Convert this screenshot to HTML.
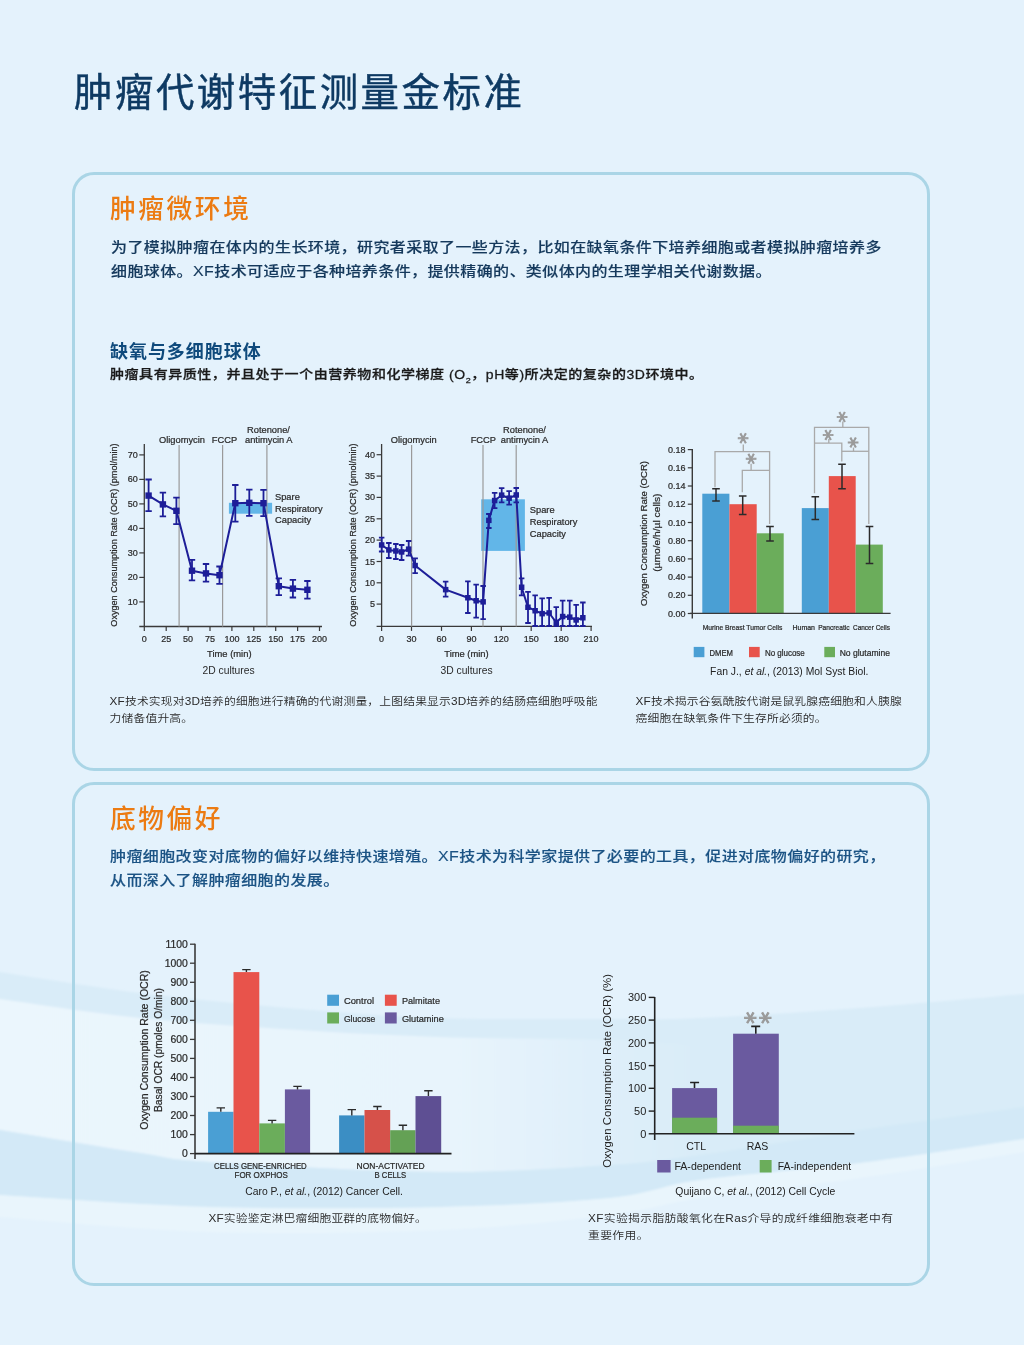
<!DOCTYPE html>
<html lang="zh-CN"><head><meta charset="utf-8"><title>肿瘤代谢特征测量金标准</title>
<style>
html,body{margin:0;padding:0;}
body{width:1024px;height:1345px;overflow:hidden;position:relative;background:#e4f2fc;font-family:"Liberation Sans", "Noto Sans CJK SC", sans-serif;}
.abs{position:absolute;white-space:nowrap;}
.box{position:absolute;border:3px solid #aad5e6;border-radius:22px;box-sizing:border-box;}
h1{position:absolute;margin:0;left:74px;top:68px;font-size:38.4px;line-height:50px;font-weight:400;-webkit-text-stroke:0.45px #0e3a63;color:#0e3a63;letter-spacing:2.55px;font-family:"Liberation Sans","Noto Sans CJK SC",sans-serif;}
.h2{position:absolute;margin:0;font-size:25.7px;line-height:34px;color:#ec7b12;font-weight:500;letter-spacing:2.6px;}
.p{position:absolute;margin:0;font-size:16px;line-height:28.41px;transform:scaleY(0.88);transform-origin:0 0;color:#15395c;font-weight:500;-webkit-text-stroke:0.15px currentColor;letter-spacing:0.4px;white-space:nowrap;}
.h3{position:absolute;margin:0;font-size:18px;line-height:22px;color:#0f4a7c;font-weight:700;letter-spacing:0.95px;}
.p2{position:absolute;margin:0;font-size:14px;line-height:20.45px;transform:scaleY(0.88);transform-origin:0 0;color:#1a1a1a;font-weight:500;-webkit-text-stroke:0.3px #1a1a1a;letter-spacing:0.55px;white-space:nowrap;}
.cap{position:absolute;margin:0;font-size:11.8px;line-height:18.89px;transform:scaleY(0.9);transform-origin:0 0;color:#2a2a2a;font-weight:350;letter-spacing:0.15px;white-space:nowrap;}
svg text{font-family:"Liberation Sans",sans-serif;fill:#2a2a2a;}
.tk,.lb,.yl,.tm,.tk3,.yl3,.cat3,.lg3,.tk4,.lg4,.cat4,.yl4{stroke:#2a2a2a;stroke-width:0.22px;}
.tk{font-size:9px;}
.lb{font-size:9.3px;}
.yl{font-size:8.7px;}
.cu{font-size:10.3px;}
.tm{font-size:9.4px;}
.tk3{font-size:9px;}
.yl3{font-size:9.2px;}
.cat3{font-size:7px;}
.lg3{font-size:8.6px;}
.cit{font-size:10px;fill:#222 !important;}
.star{font-size:22px;fill:#9a9a9a !important;stroke:#9a9a9a;stroke-width:0.9px;font-family:"DejaVu Sans",sans-serif !important;}
.star5{font-size:24px;fill:#a8a8a8 !important;stroke:#a8a8a8;stroke-width:1px;font-family:"DejaVu Sans",sans-serif !important;letter-spacing:-1px;}
.tk4{font-size:10.4px;}
.lg4{font-size:9.4px;}
.cat4{font-size:8.4px;}
.yl4{font-size:10px;}
.tk5{font-size:11px;fill:#222 !important;}
.ax5{font-size:10.5px;fill:#222 !important;}
</style></head>
<body>
<svg class="abs" style="left:0;top:0;" width="1024" height="1345" viewBox="0 0 1024 1345"><defs><linearGradient id="wf" x1="0" y1="0" x2="1024" y2="0" gradientUnits="userSpaceOnUse">
<stop offset="0" stop-color="#ebf6fd" stop-opacity="1"/><stop offset="0.45" stop-color="#ebf6fd" stop-opacity="0.8"/><stop offset="0.68" stop-color="#ebf6fd" stop-opacity="0"/></linearGradient>
<filter id="bl" x="-5%" y="-20%" width="110%" height="140%"><feGaussianBlur stdDeviation="1.2"/></filter></defs>
<g filter="url(#bl)">
<path d="M-5.0,971.0 L-5.2,971.0 L-6.0,970.9 L-7.3,970.7 L-8.7,970.5 L-10.1,970.3 L-11.2,970.2 L-11.9,970.1 L-11.9,970.1 L-10.9,970.3 L-8.7,970.7 L-5.2,971.2 L0.0,972.0 L6.9,973.1 L15.3,974.4 L25.0,976.0 L35.9,977.7 L47.8,979.6 L60.3,981.6 L73.4,983.6 L86.9,985.6 L100.4,987.6 L113.9,989.6 L127.2,991.4 L140.0,993.0 L152.7,994.5 L165.7,996.0 L179.1,997.5 L192.6,999.0 L206.3,1000.4 L220.0,1001.8 L233.7,1003.1 L247.4,1004.4 L260.9,1005.6 L274.3,1006.8 L287.3,1007.9 L300.0,1009.0 L312.3,1010.0 L324.1,1011.0 L335.7,1011.9 L347.0,1012.8 L358.2,1013.7 L369.4,1014.4 L380.6,1015.2 L391.9,1015.9 L403.4,1016.5 L415.2,1017.0 L427.3,1017.6 L440.0,1018.0 L453.4,1018.4 L467.5,1018.7 L482.3,1018.9 L497.4,1019.0 L512.8,1019.1 L528.1,1019.1 L543.3,1019.1 L558.1,1019.1 L572.4,1019.1 L585.9,1019.0 L598.5,1019.0 L610.0,1019.0 L620.1,1019.0 L628.8,1019.1 L636.5,1019.1 L643.3,1019.1 L649.6,1019.2 L655.6,1019.2 L661.6,1019.2 L667.8,1019.1 L674.5,1018.9 L681.9,1018.7 L690.3,1018.4 L700.0,1018.0 L710.9,1017.5 L722.6,1016.9 L735.0,1016.2 L748.0,1015.5 L761.5,1014.7 L775.4,1013.8 L789.5,1012.9 L803.8,1012.0 L818.1,1011.0 L832.3,1010.0 L846.3,1009.0 L860.0,1008.0 L874.0,1006.9 L888.9,1005.7 L904.4,1004.5 L920.2,1003.1 L936.1,1001.8 L951.6,1000.4 L966.7,999.1 L980.9,997.9 L994.0,996.7 L1005.8,995.6 L1015.9,994.7 L1024.0,994.0 L1030.1,993.5 L1034.2,993.1 L1036.8,992.8 L1037.9,992.7 L1038.0,992.6 L1037.2,992.6 L1035.9,992.7 L1034.3,992.8 L1032.6,992.9 L1031.2,993.0 L1030.2,993.0 L1030.0,993.0 L1030.0,1138.0 L1030.2,1138.0 L1031.2,1137.8 L1032.6,1137.6 L1034.3,1137.4 L1035.9,1137.2 L1037.2,1137.0 L1038.0,1136.9 L1037.9,1136.9 L1036.8,1137.1 L1034.2,1137.5 L1030.1,1138.1 L1024.0,1139.0 L1015.9,1140.2 L1005.8,1141.8 L994.0,1143.5 L980.9,1145.6 L966.7,1147.7 L951.6,1150.0 L936.1,1152.3 L920.2,1154.7 L904.4,1157.0 L888.9,1159.1 L874.0,1161.2 L860.0,1163.0 L846.3,1164.7 L832.3,1166.2 L818.1,1167.7 L803.8,1169.1 L789.5,1170.5 L775.4,1171.9 L761.5,1173.2 L748.0,1174.5 L735.0,1175.8 L722.6,1177.2 L710.9,1178.6 L700.0,1180.0 L690.3,1181.5 L681.9,1183.0 L674.5,1184.6 L667.8,1186.3 L661.6,1187.9 L655.6,1189.5 L649.6,1191.1 L643.3,1192.6 L636.5,1194.1 L628.8,1195.5 L620.1,1196.8 L610.0,1198.0 L598.8,1199.1 L587.0,1200.1 L574.5,1201.1 L561.5,1202.0 L547.9,1202.8 L533.8,1203.6 L519.1,1204.3 L504.1,1205.0 L488.6,1205.6 L472.7,1206.1 L456.5,1206.6 L440.0,1207.0 L422.9,1207.4 L404.9,1207.7 L386.2,1207.9 L367.0,1208.1 L347.4,1208.2 L327.5,1208.3 L307.5,1208.3 L287.4,1208.2 L267.5,1208.1 L247.9,1207.8 L228.7,1207.4 L210.0,1207.0 L191.1,1206.4 L171.5,1205.6 L151.3,1204.6 L130.9,1203.5 L110.7,1202.3 L90.9,1201.1 L72.0,1199.8 L54.1,1198.6 L37.6,1197.5 L22.9,1196.5 L10.3,1195.7 L0.0,1195.0 L-7.6,1194.5 L-12.8,1194.2 L-15.8,1194.0 L-17.0,1193.8 L-16.9,1193.8 L-15.6,1193.8 L-13.7,1193.8 L-11.3,1193.9 L-8.9,1193.9 L-6.8,1194.0 L-5.4,1194.0 L-5.0,1194.0 Z" fill="#d9ecf8"/>
<path d="M-5.0,998.0 L-5.2,998.0 L-6.0,997.9 L-7.3,997.8 L-8.7,997.6 L-10.1,997.4 L-11.2,997.3 L-11.9,997.3 L-11.9,997.3 L-10.9,997.5 L-8.7,997.8 L-5.2,998.3 L0.0,999.0 L6.9,1000.0 L15.3,1001.2 L25.0,1002.6 L35.9,1004.3 L47.8,1006.0 L60.3,1007.8 L73.4,1009.7 L86.9,1011.5 L100.4,1013.3 L113.9,1015.0 L127.2,1016.6 L140.0,1018.0 L152.7,1019.3 L165.7,1020.5 L179.1,1021.6 L192.6,1022.7 L206.3,1023.7 L220.0,1024.8 L233.7,1025.7 L247.4,1026.6 L260.9,1027.5 L274.3,1028.4 L287.3,1029.2 L300.0,1030.0 L312.3,1030.8 L324.1,1031.5 L335.7,1032.2 L347.0,1032.9 L358.2,1033.5 L369.4,1034.1 L380.6,1034.6 L391.9,1035.1 L403.4,1035.6 L415.2,1036.1 L427.3,1036.6 L440.0,1037.0 L453.4,1037.4 L467.5,1037.7 L482.3,1038.0 L497.4,1038.2 L512.8,1038.4 L528.1,1038.6 L543.3,1038.8 L558.1,1039.0 L572.4,1039.2 L585.9,1039.4 L598.5,1039.7 L610.0,1040.0 L619.5,1040.3 L626.9,1040.7 L632.5,1041.1 L637.0,1041.5 L641.0,1041.9 L645.0,1042.4 L649.5,1042.8 L655.2,1043.3 L662.5,1043.7 L672.0,1044.1 L684.4,1044.6 L700.0,1045.0 L720.1,1045.4 L744.9,1045.9 L773.4,1046.4 L804.4,1046.9 L837.2,1047.3 L870.6,1047.8 L903.7,1048.3 L935.6,1048.7 L965.1,1049.1 L991.3,1049.5 L1013.3,1049.8 L1030.0,1050.0 L1030.0,1106.0 L1030.2,1106.0 L1031.2,1105.9 L1032.6,1105.7 L1034.3,1105.4 L1035.9,1105.2 L1037.2,1105.1 L1038.0,1105.0 L1037.9,1105.0 L1036.8,1105.2 L1034.2,1105.5 L1030.1,1106.1 L1024.0,1107.0 L1015.9,1108.1 L1005.8,1109.5 L994.0,1111.2 L980.9,1113.0 L966.7,1114.9 L951.6,1117.0 L936.1,1119.2 L920.2,1121.4 L904.4,1123.6 L888.9,1125.8 L874.0,1127.9 L860.0,1130.0 L846.3,1132.1 L832.3,1134.2 L818.1,1136.5 L803.8,1138.7 L789.5,1141.0 L775.4,1143.3 L761.5,1145.5 L748.0,1147.7 L735.0,1149.8 L722.6,1151.7 L710.9,1153.4 L700.0,1155.0 L690.3,1156.4 L681.9,1157.6 L674.5,1158.6 L667.8,1159.6 L661.6,1160.4 L655.6,1161.1 L649.6,1161.8 L643.3,1162.4 L636.5,1163.1 L628.8,1163.7 L620.1,1164.3 L610.0,1165.0 L598.8,1165.7 L587.0,1166.5 L574.5,1167.4 L561.5,1168.2 L547.9,1169.0 L533.8,1169.8 L519.1,1170.4 L504.1,1171.0 L488.6,1171.5 L472.7,1171.9 L456.5,1172.0 L440.0,1172.0 L422.4,1171.8 L403.3,1171.3 L383.0,1170.7 L361.9,1169.9 L340.3,1169.0 L318.8,1168.0 L297.5,1167.0 L277.0,1165.9 L257.7,1164.8 L239.8,1163.8 L223.8,1162.9 L210.0,1162.0 L198.8,1161.3 L189.9,1160.6 L182.9,1160.0 L177.4,1159.4 L173.0,1158.9 L169.4,1158.3 L166.0,1157.7 L162.6,1157.0 L158.7,1156.2 L153.9,1155.3 L147.8,1154.2 L140.0,1153.0 L130.4,1151.5 L119.2,1149.7 L106.8,1147.7 L93.5,1145.6 L79.8,1143.3 L65.9,1141.0 L52.3,1138.7 L39.3,1136.6 L27.1,1134.5 L16.3,1132.7 L7.2,1131.2 L0.0,1130.0 L-5.2,1129.1 L-8.7,1128.5 L-10.9,1128.2 L-11.9,1128.0 L-11.9,1128.0 L-11.2,1128.1 L-10.1,1128.2 L-8.7,1128.4 L-7.3,1128.7 L-6.0,1128.9 L-5.2,1129.0 L-5.0,1129.0 Z" fill="url(#wf)"/>
<path d="M-5.0,1129.0 L-5.2,1129.0 L-6.0,1128.9 L-7.3,1128.7 L-8.7,1128.4 L-10.1,1128.2 L-11.2,1128.1 L-11.9,1128.0 L-11.9,1128.0 L-10.9,1128.2 L-8.7,1128.5 L-5.2,1129.1 L0.0,1130.0 L7.2,1131.2 L16.3,1132.7 L27.1,1134.5 L39.3,1136.6 L52.3,1138.7 L65.9,1141.0 L79.8,1143.3 L93.5,1145.6 L106.8,1147.7 L119.2,1149.7 L130.4,1151.5 L140.0,1153.0 L147.8,1154.2 L153.9,1155.3 L158.7,1156.2 L162.6,1157.0 L166.0,1157.7 L169.4,1158.3 L173.0,1158.9 L177.4,1159.4 L182.9,1160.0 L189.9,1160.6 L198.8,1161.3 L210.0,1162.0 L223.8,1162.9 L239.8,1163.8 L257.7,1164.8 L277.0,1165.9 L297.5,1167.0 L318.8,1168.0 L340.3,1169.0 L361.9,1169.9 L383.0,1170.7 L403.3,1171.3 L422.4,1171.8 L440.0,1172.0 L456.5,1172.0 L472.7,1171.9 L488.6,1171.5 L504.1,1171.0 L519.1,1170.4 L533.8,1169.8 L547.9,1169.0 L561.5,1168.2 L574.5,1167.4 L587.0,1166.5 L598.8,1165.7 L610.0,1165.0 L620.1,1164.3 L628.8,1163.7 L636.5,1163.1 L643.3,1162.4 L649.6,1161.8 L655.6,1161.1 L661.6,1160.4 L667.8,1159.6 L674.5,1158.6 L681.9,1157.6 L690.3,1156.4 L700.0,1155.0 L710.9,1153.4 L722.6,1151.7 L735.0,1149.8 L748.0,1147.7 L761.5,1145.5 L775.4,1143.3 L789.5,1141.0 L803.8,1138.7 L818.1,1136.5 L832.3,1134.2 L846.3,1132.1 L860.0,1130.0 L874.0,1127.9 L888.9,1125.8 L904.4,1123.6 L920.2,1121.4 L936.1,1119.2 L951.6,1117.0 L966.7,1114.9 L980.9,1113.0 L994.0,1111.2 L1005.8,1109.5 L1015.9,1108.1 L1024.0,1107.0 L1030.1,1106.1 L1034.2,1105.5 L1036.8,1105.2 L1037.9,1105.0 L1038.0,1105.0 L1037.2,1105.1 L1035.9,1105.2 L1034.3,1105.4 L1032.6,1105.7 L1031.2,1105.9 L1030.2,1106.0 L1030.0,1106.0 L1030.0,1138.0 L1030.2,1138.0 L1031.2,1137.8 L1032.6,1137.6 L1034.3,1137.4 L1035.9,1137.2 L1037.2,1137.0 L1038.0,1136.9 L1037.9,1136.9 L1036.8,1137.1 L1034.2,1137.5 L1030.1,1138.1 L1024.0,1139.0 L1015.9,1140.2 L1005.8,1141.8 L994.0,1143.5 L980.9,1145.6 L966.7,1147.7 L951.6,1150.0 L936.1,1152.3 L920.2,1154.7 L904.4,1157.0 L888.9,1159.1 L874.0,1161.2 L860.0,1163.0 L846.3,1164.7 L832.3,1166.2 L818.1,1167.7 L803.8,1169.1 L789.5,1170.5 L775.4,1171.9 L761.5,1173.2 L748.0,1174.5 L735.0,1175.8 L722.6,1177.2 L710.9,1178.6 L700.0,1180.0 L690.3,1181.5 L681.9,1183.0 L674.5,1184.6 L667.8,1186.3 L661.6,1187.9 L655.6,1189.5 L649.6,1191.1 L643.3,1192.6 L636.5,1194.1 L628.8,1195.5 L620.1,1196.8 L610.0,1198.0 L598.8,1199.1 L587.0,1200.1 L574.5,1201.1 L561.5,1202.0 L547.9,1202.8 L533.8,1203.6 L519.1,1204.3 L504.1,1205.0 L488.6,1205.6 L472.7,1206.1 L456.5,1206.6 L440.0,1207.0 L422.9,1207.4 L404.9,1207.7 L386.2,1207.9 L367.0,1208.1 L347.4,1208.2 L327.5,1208.3 L307.5,1208.3 L287.4,1208.2 L267.5,1208.1 L247.9,1207.8 L228.7,1207.4 L210.0,1207.0 L191.1,1206.4 L171.5,1205.6 L151.3,1204.6 L130.9,1203.5 L110.7,1202.3 L90.9,1201.1 L72.0,1199.8 L54.1,1198.6 L37.6,1197.5 L22.9,1196.5 L10.3,1195.7 L0.0,1195.0 L-7.6,1194.5 L-12.8,1194.2 L-15.8,1194.0 L-17.0,1193.8 L-16.9,1193.8 L-15.6,1193.8 L-13.7,1193.8 L-11.3,1193.9 L-8.9,1193.9 L-6.8,1194.0 L-5.4,1194.0 L-5.0,1194.0 Z" fill="#d3e9f7"/>
<path d="M-5.0,1194.0 L-5.4,1194.0 L-6.8,1194.0 L-8.9,1193.9 L-11.3,1193.9 L-13.7,1193.8 L-15.6,1193.8 L-16.9,1193.8 L-17.0,1193.8 L-15.8,1194.0 L-12.8,1194.2 L-7.6,1194.5 L0.0,1195.0 L10.3,1195.7 L22.9,1196.5 L37.6,1197.5 L54.1,1198.6 L72.0,1199.8 L90.9,1201.1 L110.7,1202.3 L130.9,1203.5 L151.3,1204.6 L171.5,1205.6 L191.1,1206.4 L210.0,1207.0 L228.7,1207.4 L247.9,1207.8 L267.5,1208.1 L287.4,1208.2 L307.5,1208.3 L327.5,1208.3 L347.4,1208.2 L367.0,1208.1 L386.2,1207.9 L404.9,1207.7 L422.9,1207.4 L440.0,1207.0 L456.5,1206.6 L472.7,1206.1 L488.6,1205.6 L504.1,1205.0 L519.1,1204.3 L533.8,1203.6 L547.9,1202.8 L561.5,1202.0 L574.5,1201.1 L587.0,1200.1 L598.8,1199.1 L610.0,1198.0 L620.1,1196.8 L628.8,1195.5 L636.5,1194.1 L643.3,1192.6 L649.6,1191.1 L655.6,1189.5 L661.6,1187.9 L667.8,1186.3 L674.5,1184.6 L681.9,1183.0 L690.3,1181.5 L700.0,1180.0 L710.9,1178.6 L722.6,1177.2 L735.0,1175.8 L748.0,1174.5 L761.5,1173.2 L775.4,1171.9 L789.5,1170.5 L803.8,1169.1 L818.1,1167.7 L832.3,1166.2 L846.3,1164.7 L860.0,1163.0 L874.0,1161.2 L888.9,1159.1 L904.4,1157.0 L920.2,1154.7 L936.1,1152.3 L951.6,1150.0 L966.7,1147.7 L980.9,1145.6 L994.0,1143.5 L1005.8,1141.8 L1015.9,1140.2 L1024.0,1139.0 L1030.1,1138.1 L1034.2,1137.5 L1036.8,1137.1 L1037.9,1136.9 L1038.0,1136.9 L1037.2,1137.0 L1035.9,1137.2 L1034.3,1137.4 L1032.6,1137.6 L1031.2,1137.8 L1030.2,1138.0 L1030.0,1138.0 L1030.0,1151.0 L1030.2,1151.0 L1031.2,1150.8 L1032.6,1150.6 L1034.3,1150.3 L1035.9,1150.1 L1037.2,1149.9 L1038.0,1149.8 L1037.9,1149.8 L1036.8,1150.0 L1034.2,1150.4 L1030.1,1151.0 L1024.0,1152.0 L1015.9,1153.3 L1005.8,1155.0 L994.0,1156.9 L980.9,1159.0 L966.7,1161.4 L951.6,1163.8 L936.1,1166.3 L920.2,1168.9 L904.4,1171.3 L888.9,1173.7 L874.0,1176.0 L860.0,1178.0 L846.3,1179.9 L832.3,1181.7 L818.1,1183.5 L803.8,1185.2 L789.5,1186.9 L775.4,1188.6 L761.5,1190.2 L748.0,1191.8 L735.0,1193.4 L722.6,1194.9 L710.9,1196.5 L700.0,1198.0 L690.3,1199.5 L681.9,1201.0 L674.5,1202.5 L667.8,1204.0 L661.6,1205.4 L655.6,1206.8 L649.6,1208.2 L643.3,1209.6 L636.5,1211.0 L628.8,1212.3 L620.1,1213.7 L610.0,1215.0 L598.8,1216.4 L587.0,1217.8 L574.5,1219.2 L561.5,1220.6 L547.9,1222.1 L533.8,1223.4 L519.1,1224.8 L504.1,1226.0 L488.6,1227.2 L472.7,1228.3 L456.5,1229.2 L440.0,1230.0 L422.9,1230.7 L404.9,1231.3 L386.2,1231.8 L367.0,1232.3 L347.4,1232.6 L327.5,1232.9 L307.5,1233.0 L287.4,1233.1 L267.5,1233.0 L247.9,1232.8 L228.7,1232.5 L210.0,1232.0 L191.1,1231.3 L171.5,1230.3 L151.3,1229.1 L130.9,1227.7 L110.7,1226.2 L90.9,1224.7 L72.0,1223.1 L54.1,1221.6 L37.6,1220.2 L22.9,1218.9 L10.3,1217.8 L0.0,1217.0 L-7.6,1216.4 L-12.8,1216.0 L-15.8,1215.7 L-17.0,1215.6 L-16.9,1215.5 L-15.6,1215.6 L-13.7,1215.6 L-11.3,1215.7 L-8.9,1215.9 L-6.8,1215.9 L-5.4,1216.0 L-5.0,1216.0 Z" fill="#e9f5fc"/>
</g></svg>
<h1>肿瘤代谢特征测量金标准</h1>
<div class="box" style="left:72px;top:171.6px;width:858px;height:599.8px;"></div>
<div class="box" style="left:72px;top:782.2px;width:858px;height:504px;"></div>
<div class="h2" style="left:110px;top:191.5px;">肿瘤微环境</div>
<div class="p" style="left:111px;top:234.5px;">为了模拟肿瘤在体内的生长环境，研究者采取了一些方法，比如在缺氧条件下培养细胞或者模拟肿瘤培养多<br>细胞球体。XF技术可适应于各种培养条件，提供精确的、类似体内的生理学相关代谢数据。</div>
<div class="h3" style="left:110px;top:340.5px;">缺氧与多细胞球体</div>
<div class="p2" style="left:110px;top:365.6px;">肿瘤具有异质性，并且处于一个由营养物和化学梯度 (O<sub style="font-size:9px;line-height:0;">2</sub>，pH等)所决定的复杂的3D环境中。</div>
<div class="cap" style="left:109.6px;top:693px;">XF技术实现对3D培养的细胞进行精确的代谢测量，上图结果显示3D培养的结肠癌细胞呼吸能<br>力储备值升高。</div>
<div class="cap" style="left:635.6px;top:693px;">XF技术揭示谷氨酰胺代谢是鼠乳腺癌细胞和人胰腺<br>癌细胞在缺氧条件下生存所必须的。</div>
<div class="h2" style="left:110px;top:801.5px;">底物偏好</div>
<div class="p" style="left:110px;top:844px;color:#1b5384;">肿瘤细胞改变对底物的偏好以维持快速增殖。XF技术为科学家提供了必要的工具，促进对底物偏好的研究，<br>从而深入了解肿瘤细胞的发展。</div>
<div class="cap" style="left:208.5px;top:1209.8px;">XF实验鉴定淋巴瘤细胞亚群的底物偏好。</div>
<div class="cap" style="left:588px;top:1210.3px;letter-spacing:0.36px;">XF实验揭示脂肪酸氧化在Ras介导的成纤维细胞衰老中有<br>重要作用。</div>
<svg class="abs" style="left:0;top:0;" width="1024" height="1345" viewBox="0 0 1024 1345">
<line x1="144.3" y1="444" x2="144.3" y2="626.5" stroke="#3a3a3a" stroke-width="1.3"/>
<line x1="139.3" y1="626.5" x2="322" y2="626.5" stroke="#3a3a3a" stroke-width="1.3"/>
<line x1="139.3" y1="454.9" x2="144.3" y2="454.9" stroke="#3a3a3a" stroke-width="1.2"/>
<text x="137.8" y="457.9" text-anchor="end" class="tk">70</text>
<line x1="139.3" y1="479.4" x2="144.3" y2="479.4" stroke="#3a3a3a" stroke-width="1.2"/>
<text x="137.8" y="482.4" text-anchor="end" class="tk">60</text>
<line x1="139.3" y1="503.9" x2="144.3" y2="503.9" stroke="#3a3a3a" stroke-width="1.2"/>
<text x="137.8" y="506.9" text-anchor="end" class="tk">50</text>
<line x1="139.3" y1="528.4" x2="144.3" y2="528.4" stroke="#3a3a3a" stroke-width="1.2"/>
<text x="137.8" y="531.4" text-anchor="end" class="tk">40</text>
<line x1="139.3" y1="552.9" x2="144.3" y2="552.9" stroke="#3a3a3a" stroke-width="1.2"/>
<text x="137.8" y="555.9" text-anchor="end" class="tk">30</text>
<line x1="139.3" y1="577.4" x2="144.3" y2="577.4" stroke="#3a3a3a" stroke-width="1.2"/>
<text x="137.8" y="580.4" text-anchor="end" class="tk">20</text>
<line x1="139.3" y1="601.9" x2="144.3" y2="601.9" stroke="#3a3a3a" stroke-width="1.2"/>
<text x="137.8" y="604.9" text-anchor="end" class="tk">10</text>
<line x1="144.3" y1="626.5" x2="144.3" y2="631" stroke="#3a3a3a" stroke-width="1.2"/>
<text x="144.3" y="641.5" text-anchor="middle" class="tk">0</text>
<line x1="166.2" y1="626.5" x2="166.2" y2="631" stroke="#3a3a3a" stroke-width="1.2"/>
<text x="166.2" y="641.5" text-anchor="middle" class="tk">25</text>
<line x1="188.1" y1="626.5" x2="188.1" y2="631" stroke="#3a3a3a" stroke-width="1.2"/>
<text x="188.1" y="641.5" text-anchor="middle" class="tk">50</text>
<line x1="210" y1="626.5" x2="210" y2="631" stroke="#3a3a3a" stroke-width="1.2"/>
<text x="210" y="641.5" text-anchor="middle" class="tk">75</text>
<line x1="231.9" y1="626.5" x2="231.9" y2="631" stroke="#3a3a3a" stroke-width="1.2"/>
<text x="231.9" y="641.5" text-anchor="middle" class="tk">100</text>
<line x1="253.8" y1="626.5" x2="253.8" y2="631" stroke="#3a3a3a" stroke-width="1.2"/>
<text x="253.8" y="641.5" text-anchor="middle" class="tk">125</text>
<line x1="275.7" y1="626.5" x2="275.7" y2="631" stroke="#3a3a3a" stroke-width="1.2"/>
<text x="275.7" y="641.5" text-anchor="middle" class="tk">150</text>
<line x1="297.6" y1="626.5" x2="297.6" y2="631" stroke="#3a3a3a" stroke-width="1.2"/>
<text x="297.6" y="641.5" text-anchor="middle" class="tk">175</text>
<line x1="319.5" y1="626.5" x2="319.5" y2="631" stroke="#3a3a3a" stroke-width="1.2"/>
<text x="319.5" y="641.5" text-anchor="middle" class="tk">200</text>
<rect x="228.9" y="502.8" width="43.2" height="10.9" fill="#62b6e8"/>
<line x1="179.1" y1="445" x2="179.1" y2="626.5" stroke="#9a9a9a" stroke-width="1.2"/>
<line x1="222.6" y1="445" x2="222.6" y2="626.5" stroke="#9a9a9a" stroke-width="1.2"/>
<line x1="266.9" y1="445" x2="266.9" y2="626.5" stroke="#9a9a9a" stroke-width="1.2"/>
<text x="182" y="443" text-anchor="middle" class="lb">Oligomycin</text>
<text x="224.5" y="443" text-anchor="middle" class="lb">FCCP</text>
<text x="268.5" y="433.3" text-anchor="middle" class="lb">Rotenone/</text>
<text x="268.8" y="443" text-anchor="middle" class="lb">antimycin A</text>
<path d="M148.6,495.6 L162.9,504.4 L176.4,510.8 L192,570.7 L206,573.4 L219.5,575.2 L235.3,503.2 L249.3,502.8 L263.5,503.2 L278.8,586.2 L292.9,588.6 L307.4,589.8" fill="none" stroke="#1d1e98" stroke-width="2" stroke-linejoin="round"/>
<path d="M148.6,479.5 V511.2 M145.4,479.5 H151.8 M145.4,511.2 H151.8" stroke="#1d1e98" stroke-width="1.8" fill="none"/>
<rect x="145.4" y="492.4" width="6.4" height="6.4" fill="#1d1e98"/>
<path d="M162.9,492.7 V516.3 M159.7,492.7 H166.1 M159.7,516.3 H166.1" stroke="#1d1e98" stroke-width="1.8" fill="none"/>
<rect x="159.7" y="501.2" width="6.4" height="6.4" fill="#1d1e98"/>
<path d="M176.4,497.6 V524.1 M173.2,497.6 H179.6 M173.2,524.1 H179.6" stroke="#1d1e98" stroke-width="1.8" fill="none"/>
<rect x="173.2" y="507.6" width="6.4" height="6.4" fill="#1d1e98"/>
<path d="M192,559.9 V580.4 M188.8,559.9 H195.2 M188.8,580.4 H195.2" stroke="#1d1e98" stroke-width="1.8" fill="none"/>
<rect x="188.8" y="567.5" width="6.4" height="6.4" fill="#1d1e98"/>
<path d="M206,564 V581.6 M202.8,564 H209.2 M202.8,581.6 H209.2" stroke="#1d1e98" stroke-width="1.8" fill="none"/>
<rect x="202.8" y="570.2" width="6.4" height="6.4" fill="#1d1e98"/>
<path d="M219.5,566.5 V583.9 M216.3,566.5 H222.7 M216.3,583.9 H222.7" stroke="#1d1e98" stroke-width="1.8" fill="none"/>
<rect x="216.3" y="572" width="6.4" height="6.4" fill="#1d1e98"/>
<path d="M235.3,485 V521.6 M232.1,485 H238.5 M232.1,521.6 H238.5" stroke="#1d1e98" stroke-width="1.8" fill="none"/>
<rect x="232.1" y="500" width="6.4" height="6.4" fill="#1d1e98"/>
<path d="M249.3,489.6 V515.8 M246.1,489.6 H252.5 M246.1,515.8 H252.5" stroke="#1d1e98" stroke-width="1.8" fill="none"/>
<rect x="246.1" y="499.6" width="6.4" height="6.4" fill="#1d1e98"/>
<path d="M263.5,489.8 V516.2 M260.3,489.8 H266.7 M260.3,516.2 H266.7" stroke="#1d1e98" stroke-width="1.8" fill="none"/>
<rect x="260.3" y="500" width="6.4" height="6.4" fill="#1d1e98"/>
<path d="M278.8,578.3 V595.1 M275.6,578.3 H282 M275.6,595.1 H282" stroke="#1d1e98" stroke-width="1.8" fill="none"/>
<rect x="275.6" y="583" width="6.4" height="6.4" fill="#1d1e98"/>
<path d="M292.9,579.9 V597.5 M289.7,579.9 H296.1 M289.7,597.5 H296.1" stroke="#1d1e98" stroke-width="1.8" fill="none"/>
<rect x="289.7" y="585.4" width="6.4" height="6.4" fill="#1d1e98"/>
<path d="M307.4,581 V598.7 M304.2,581 H310.6 M304.2,598.7 H310.6" stroke="#1d1e98" stroke-width="1.8" fill="none"/>
<rect x="304.2" y="586.6" width="6.4" height="6.4" fill="#1d1e98"/>
<text x="275" y="500" class="lb"><tspan x="275">Spare</tspan><tspan x="275" dy="11.6">Respiratory</tspan><tspan x="275" dy="11.6">Capacity</tspan></text>
<text transform="translate(117,535) rotate(-90)" text-anchor="middle" class="yl" textLength="183.3" lengthAdjust="spacingAndGlyphs">Oxygen Consumption Rate (OCR) (pmol/min)</text>
<text x="229.3" y="657.2" text-anchor="middle" class="tm">Time (min)</text>
<text x="228.6" y="674.3" text-anchor="middle" class="cu">2D cultures</text>
<line x1="381.6" y1="444" x2="381.6" y2="626.4" stroke="#3a3a3a" stroke-width="1.3"/>
<line x1="376.6" y1="626.4" x2="592" y2="626.4" stroke="#3a3a3a" stroke-width="1.3"/>
<line x1="376.6" y1="454.7" x2="381.6" y2="454.7" stroke="#3a3a3a" stroke-width="1.2"/>
<text x="375.1" y="457.7" text-anchor="end" class="tk">40</text>
<line x1="376.6" y1="476.1" x2="381.6" y2="476.1" stroke="#3a3a3a" stroke-width="1.2"/>
<text x="375.1" y="479.1" text-anchor="end" class="tk">35</text>
<line x1="376.6" y1="497.4" x2="381.6" y2="497.4" stroke="#3a3a3a" stroke-width="1.2"/>
<text x="375.1" y="500.4" text-anchor="end" class="tk">30</text>
<line x1="376.6" y1="518.8" x2="381.6" y2="518.8" stroke="#3a3a3a" stroke-width="1.2"/>
<text x="375.1" y="521.8" text-anchor="end" class="tk">25</text>
<line x1="376.6" y1="540.1" x2="381.6" y2="540.1" stroke="#3a3a3a" stroke-width="1.2"/>
<text x="375.1" y="543.1" text-anchor="end" class="tk">20</text>
<line x1="376.6" y1="561.5" x2="381.6" y2="561.5" stroke="#3a3a3a" stroke-width="1.2"/>
<text x="375.1" y="564.5" text-anchor="end" class="tk">15</text>
<line x1="376.6" y1="582.8" x2="381.6" y2="582.8" stroke="#3a3a3a" stroke-width="1.2"/>
<text x="375.1" y="585.8" text-anchor="end" class="tk">10</text>
<line x1="376.6" y1="604.1" x2="381.6" y2="604.1" stroke="#3a3a3a" stroke-width="1.2"/>
<text x="375.1" y="607.1" text-anchor="end" class="tk">5</text>
<line x1="381.6" y1="626.4" x2="381.6" y2="630.9" stroke="#3a3a3a" stroke-width="1.2"/>
<text x="381.6" y="641.5" text-anchor="middle" class="tk">0</text>
<line x1="411.5" y1="626.4" x2="411.5" y2="630.9" stroke="#3a3a3a" stroke-width="1.2"/>
<text x="411.5" y="641.5" text-anchor="middle" class="tk">30</text>
<line x1="441.5" y1="626.4" x2="441.5" y2="630.9" stroke="#3a3a3a" stroke-width="1.2"/>
<text x="441.5" y="641.5" text-anchor="middle" class="tk">60</text>
<line x1="471.4" y1="626.4" x2="471.4" y2="630.9" stroke="#3a3a3a" stroke-width="1.2"/>
<text x="471.4" y="641.5" text-anchor="middle" class="tk">90</text>
<line x1="501.3" y1="626.4" x2="501.3" y2="630.9" stroke="#3a3a3a" stroke-width="1.2"/>
<text x="501.3" y="641.5" text-anchor="middle" class="tk">120</text>
<line x1="531.2" y1="626.4" x2="531.2" y2="630.9" stroke="#3a3a3a" stroke-width="1.2"/>
<text x="531.2" y="641.5" text-anchor="middle" class="tk">150</text>
<line x1="561.2" y1="626.4" x2="561.2" y2="630.9" stroke="#3a3a3a" stroke-width="1.2"/>
<text x="561.2" y="641.5" text-anchor="middle" class="tk">180</text>
<line x1="591.1" y1="626.4" x2="591.1" y2="630.9" stroke="#3a3a3a" stroke-width="1.2"/>
<text x="591.1" y="641.5" text-anchor="middle" class="tk">210</text>
<rect x="481.2" y="499.3" width="43.7" height="51.6" fill="#62b6e8"/>
<line x1="411.6" y1="445" x2="411.6" y2="626.4" stroke="#9a9a9a" stroke-width="1.2"/>
<line x1="483" y1="445" x2="483" y2="626.4" stroke="#9a9a9a" stroke-width="1.2"/>
<line x1="516.2" y1="445" x2="516.2" y2="626.4" stroke="#9a9a9a" stroke-width="1.2"/>
<text x="413.8" y="442.5" text-anchor="middle" class="lb">Oligomycin</text>
<text x="483.3" y="442.5" text-anchor="middle" class="lb">FCCP</text>
<text x="524.5" y="433.3" text-anchor="middle" class="lb">Rotenone/</text>
<text x="524.5" y="442.5" text-anchor="middle" class="lb">antimycin A</text>
<path d="M381.7,545 L388.8,550 L395.8,551 L401.6,552 L408.7,549.1 L415.1,565.5 L445.6,589.6 L467.9,597.8 L476.1,600.7 L483.1,601.9 L488.8,520.4 L494.6,500.5 L501.7,495.2 L509.1,498.2 L516.3,495 L521.6,587.2 L528,607.2 L535.1,610.7 L542.1,613.6 L549.1,613 L556.2,622.4 L562.6,616.5 L569.7,617.1 L576.1,620 L582.9,617.7" fill="none" stroke="#1d1e98" stroke-width="2" stroke-linejoin="round"/>
<path d="M381.7,537.7 V551.5 M378.9,537.7 H384.4 M378.9,551.5 H384.4" stroke="#1d1e98" stroke-width="1.8" fill="none"/>
<rect x="378.9" y="542.2" width="5.5" height="5.5" fill="#1d1e98"/>
<path d="M388.8,543 V558 M386.1,543 H391.6 M386.1,558 H391.6" stroke="#1d1e98" stroke-width="1.8" fill="none"/>
<rect x="386.1" y="547.2" width="5.5" height="5.5" fill="#1d1e98"/>
<path d="M395.8,544 V559 M393.1,544 H398.6 M393.1,559 H398.6" stroke="#1d1e98" stroke-width="1.8" fill="none"/>
<rect x="393.1" y="548.2" width="5.5" height="5.5" fill="#1d1e98"/>
<path d="M401.6,545 V560 M398.9,545 H404.4 M398.9,560 H404.4" stroke="#1d1e98" stroke-width="1.8" fill="none"/>
<rect x="398.9" y="549.2" width="5.5" height="5.5" fill="#1d1e98"/>
<path d="M408.7,541 V555.6 M405.9,541 H411.4 M405.9,555.6 H411.4" stroke="#1d1e98" stroke-width="1.8" fill="none"/>
<rect x="405.9" y="546.4" width="5.5" height="5.5" fill="#1d1e98"/>
<path d="M415.1,558.3 V573.2 M412.4,558.3 H417.9 M412.4,573.2 H417.9" stroke="#1d1e98" stroke-width="1.8" fill="none"/>
<rect x="412.4" y="562.8" width="5.5" height="5.5" fill="#1d1e98"/>
<path d="M445.6,581.7 V596.6 M442.9,581.7 H448.4 M442.9,596.6 H448.4" stroke="#1d1e98" stroke-width="1.8" fill="none"/>
<rect x="442.9" y="586.9" width="5.5" height="5.5" fill="#1d1e98"/>
<path d="M467.9,581.4 V613 M465.1,581.4 H470.6 M465.1,613 H470.6" stroke="#1d1e98" stroke-width="1.8" fill="none"/>
<rect x="465.1" y="595" width="5.5" height="5.5" fill="#1d1e98"/>
<path d="M476.1,584.7 V617.7 M473.4,584.7 H478.9 M473.4,617.7 H478.9" stroke="#1d1e98" stroke-width="1.8" fill="none"/>
<rect x="473.4" y="598" width="5.5" height="5.5" fill="#1d1e98"/>
<path d="M483.1,586 V619.2 M480.4,586 H485.9 M480.4,619.2 H485.9" stroke="#1d1e98" stroke-width="1.8" fill="none"/>
<rect x="480.4" y="599.1" width="5.5" height="5.5" fill="#1d1e98"/>
<path d="M488.8,514 V528 M486.1,514 H491.6 M486.1,528 H491.6" stroke="#1d1e98" stroke-width="1.8" fill="none"/>
<rect x="486.1" y="517.6" width="5.5" height="5.5" fill="#1d1e98"/>
<path d="M494.6,492.9 V508.1 M491.9,492.9 H497.4 M491.9,508.1 H497.4" stroke="#1d1e98" stroke-width="1.8" fill="none"/>
<rect x="491.9" y="497.8" width="5.5" height="5.5" fill="#1d1e98"/>
<path d="M501.7,488.2 V502.3 M498.9,488.2 H504.4 M498.9,502.3 H504.4" stroke="#1d1e98" stroke-width="1.8" fill="none"/>
<rect x="498.9" y="492.4" width="5.5" height="5.5" fill="#1d1e98"/>
<path d="M509.1,491.1 V504.6 M506.4,491.1 H511.9 M506.4,504.6 H511.9" stroke="#1d1e98" stroke-width="1.8" fill="none"/>
<rect x="506.4" y="495.4" width="5.5" height="5.5" fill="#1d1e98"/>
<path d="M516.3,488 V502.3 M513.5,488 H519 M513.5,502.3 H519" stroke="#1d1e98" stroke-width="1.8" fill="none"/>
<rect x="513.5" y="492.2" width="5.5" height="5.5" fill="#1d1e98"/>
<path d="M521.6,578.4 V595.4 M518.9,578.4 H524.4 M518.9,595.4 H524.4" stroke="#1d1e98" stroke-width="1.8" fill="none"/>
<rect x="518.9" y="584.5" width="5.5" height="5.5" fill="#1d1e98"/>
<path d="M528,591.9 V623 M525.2,591.9 H530.8 M525.2,623 H530.8" stroke="#1d1e98" stroke-width="1.8" fill="none"/>
<rect x="525.2" y="604.5" width="5.5" height="5.5" fill="#1d1e98"/>
<path d="M535.1,595.4 V626 M532.4,595.4 H537.9 M532.4,626 H537.9" stroke="#1d1e98" stroke-width="1.8" fill="none"/>
<rect x="532.4" y="608" width="5.5" height="5.5" fill="#1d1e98"/>
<path d="M542.1,598.4 V626 M539.4,598.4 H544.9 M539.4,626 H544.9" stroke="#1d1e98" stroke-width="1.8" fill="none"/>
<rect x="539.4" y="610.9" width="5.5" height="5.5" fill="#1d1e98"/>
<path d="M549.1,597.8 V626 M546.4,597.8 H551.9 M546.4,626 H551.9" stroke="#1d1e98" stroke-width="1.8" fill="none"/>
<rect x="546.4" y="610.2" width="5.5" height="5.5" fill="#1d1e98"/>
<path d="M556.2,607.2 V626 M553.5,607.2 H559 M553.5,626 H559" stroke="#1d1e98" stroke-width="1.8" fill="none"/>
<rect x="553.5" y="619.6" width="5.5" height="5.5" fill="#1d1e98"/>
<path d="M562.6,600.7 V626 M559.9,600.7 H565.4 M559.9,626 H565.4" stroke="#1d1e98" stroke-width="1.8" fill="none"/>
<rect x="559.9" y="613.8" width="5.5" height="5.5" fill="#1d1e98"/>
<path d="M569.7,600.7 V626 M567,600.7 H572.5 M567,626 H572.5" stroke="#1d1e98" stroke-width="1.8" fill="none"/>
<rect x="567" y="614.4" width="5.5" height="5.5" fill="#1d1e98"/>
<path d="M576.1,604.8 V626 M573.4,604.8 H578.9 M573.4,626 H578.9" stroke="#1d1e98" stroke-width="1.8" fill="none"/>
<rect x="573.4" y="617.2" width="5.5" height="5.5" fill="#1d1e98"/>
<path d="M582.9,602.5 V626 M580.1,602.5 H585.6 M580.1,626 H585.6" stroke="#1d1e98" stroke-width="1.8" fill="none"/>
<rect x="580.1" y="615" width="5.5" height="5.5" fill="#1d1e98"/>
<text x="529.8" y="513.4" class="lb"><tspan x="529.8">Spare</tspan><tspan x="529.8" dy="11.6">Respiratory</tspan><tspan x="529.8" dy="11.6">Capacity</tspan></text>
<text transform="translate(355.5,535) rotate(-90)" text-anchor="middle" class="yl" textLength="183.3" lengthAdjust="spacingAndGlyphs">Oxygen Consumption Rate (OCR) (pmol/min)</text>
<text x="466.5" y="657.2" text-anchor="middle" class="tm">Time (min)</text>
<text x="466.5" y="674.3" text-anchor="middle" class="cu">3D cultures</text>
<line x1="692.3" y1="449" x2="692.3" y2="618.5" stroke="#3a3a3a" stroke-width="1.4"/>
<line x1="687.8" y1="613.5" x2="692.3" y2="613.5" stroke="#3a3a3a" stroke-width="1.2"/>
<text x="685.5" y="616.6" text-anchor="end" class="tk3">0.00</text>
<line x1="687.8" y1="595.3" x2="692.3" y2="595.3" stroke="#3a3a3a" stroke-width="1.2"/>
<text x="685.5" y="598.4" text-anchor="end" class="tk3">0.20</text>
<line x1="687.8" y1="577.1" x2="692.3" y2="577.1" stroke="#3a3a3a" stroke-width="1.2"/>
<text x="685.5" y="580.2" text-anchor="end" class="tk3">0.40</text>
<line x1="687.8" y1="558.9" x2="692.3" y2="558.9" stroke="#3a3a3a" stroke-width="1.2"/>
<text x="685.5" y="562" text-anchor="end" class="tk3">0.60</text>
<line x1="687.8" y1="540.7" x2="692.3" y2="540.7" stroke="#3a3a3a" stroke-width="1.2"/>
<text x="685.5" y="543.8" text-anchor="end" class="tk3">0.80</text>
<line x1="687.8" y1="522.5" x2="692.3" y2="522.5" stroke="#3a3a3a" stroke-width="1.2"/>
<text x="685.5" y="525.6" text-anchor="end" class="tk3">0.10</text>
<line x1="687.8" y1="504.2" x2="692.3" y2="504.2" stroke="#3a3a3a" stroke-width="1.2"/>
<text x="685.5" y="507.3" text-anchor="end" class="tk3">0.12</text>
<line x1="687.8" y1="486" x2="692.3" y2="486" stroke="#3a3a3a" stroke-width="1.2"/>
<text x="685.5" y="489.1" text-anchor="end" class="tk3">0.14</text>
<line x1="687.8" y1="467.8" x2="692.3" y2="467.8" stroke="#3a3a3a" stroke-width="1.2"/>
<text x="685.5" y="470.9" text-anchor="end" class="tk3">0.16</text>
<line x1="687.8" y1="449.6" x2="692.3" y2="449.6" stroke="#3a3a3a" stroke-width="1.2"/>
<text x="685.5" y="452.7" text-anchor="end" class="tk3">0.18</text>
<rect x="702.3" y="493.7" width="27.1" height="119.7" fill="#4a9fd4"/>
<rect x="729.4" y="504.2" width="27.3" height="109.2" fill="#e8534b"/>
<rect x="756.7" y="533.3" width="27" height="80.1" fill="#6bad5b"/>
<rect x="801.8" y="508.1" width="27" height="105.3" fill="#4a9fd4"/>
<rect x="828.8" y="476.1" width="26.9" height="137.3" fill="#e8534b"/>
<rect x="855.7" y="544.6" width="27.1" height="68.8" fill="#6bad5b"/>
<line x1="690" y1="613.4" x2="890.6" y2="613.4" stroke="#3a3a3a" stroke-width="1.4"/>
<path d="M716,488.8 V500.9 M712.2,488.8 H719.8 M712.2,500.9 H719.8" stroke="#2b2b2b" stroke-width="1.5" fill="none"/>
<path d="M742.7,496 V514.4 M738.9,496 H746.5 M738.9,514.4 H746.5" stroke="#2b2b2b" stroke-width="1.5" fill="none"/>
<path d="M770,526.5 V541.1 M766.2,526.5 H773.8 M766.2,541.1 H773.8" stroke="#2b2b2b" stroke-width="1.5" fill="none"/>
<path d="M815.3,496.8 V519.4 M811.5,496.8 H819.1 M811.5,519.4 H819.1" stroke="#2b2b2b" stroke-width="1.5" fill="none"/>
<path d="M842,464.2 V488.8 M838.2,464.2 H845.8 M838.2,488.8 H845.8" stroke="#2b2b2b" stroke-width="1.5" fill="none"/>
<path d="M869.5,526.5 V563.5 M865.7,526.5 H873.3 M865.7,563.5 H873.3" stroke="#2b2b2b" stroke-width="1.5" fill="none"/>
<path d="M715,487.2 V451.7 H769.6 V524.1" stroke="#a9a9a9" stroke-width="1.3" fill="none"/>
<path d="M743.3,451.7 V444.5" stroke="#a9a9a9" stroke-width="1.3" fill="none"/>
<path d="M742.3,492.3 V470.3 H769.6" stroke="#a9a9a9" stroke-width="1.3" fill="none"/>
<path d="M751.1,470.3 V463.8" stroke="#a9a9a9" stroke-width="1.3" fill="none"/>
<path d="M814.5,493.3 V427.3 H868.8 V524.1" stroke="#a9a9a9" stroke-width="1.3" fill="none"/>
<path d="M842.8,427.3 V421.5" stroke="#a9a9a9" stroke-width="1.3" fill="none"/>
<path d="M814.5,443.1 H841.8 V461.5" stroke="#a9a9a9" stroke-width="1.3" fill="none"/>
<path d="M828.8,443.1 V439" stroke="#a9a9a9" stroke-width="1.3" fill="none"/>
<path d="M841.8,451.3 H868.8" stroke="#a9a9a9" stroke-width="1.3" fill="none"/>
<path d="M853.5,451.3 V447.6" stroke="#a9a9a9" stroke-width="1.3" fill="none"/>
<text transform="translate(743.1,437.8) rotate(90)" x="0.5" y="11.5" text-anchor="middle" class="star">*</text>
<text transform="translate(751.2,458.3) rotate(90)" x="0.5" y="11.5" text-anchor="middle" class="star">*</text>
<text transform="translate(842.8,416.4) rotate(90)" x="0.5" y="11.5" text-anchor="middle" class="star">*</text>
<text transform="translate(828.8,434.5) rotate(90)" x="0.5" y="11.5" text-anchor="middle" class="star">*</text>
<text transform="translate(853.5,442) rotate(90)" x="0.5" y="11.5" text-anchor="middle" class="star">*</text>
<text transform="translate(646.5,533.5) rotate(-90)" text-anchor="middle" class="yl3" textLength="145" lengthAdjust="spacingAndGlyphs">Oxygen Consumption Rate (OCR)</text>
<text transform="translate(660.3,532.7) rotate(-90)" text-anchor="middle" class="yl3" textLength="78.3" lengthAdjust="spacingAndGlyphs">(µmo/e/h/µl cells)</text>
<text x="702.7" y="629.5" class="cat3" textLength="79.6" lengthAdjust="spacingAndGlyphs">Murine Breast Tumor Cells</text>
<text x="792.5" y="629.5" class="cat3" textLength="22.5" lengthAdjust="spacingAndGlyphs">Human</text>
<text x="818.2" y="629.5" class="cat3" textLength="31.4" lengthAdjust="spacingAndGlyphs">Pancreatic</text>
<text x="853" y="629.5" class="cat3" textLength="37" lengthAdjust="spacingAndGlyphs">Cancer Cells</text>
<rect x="693.7" y="646.9" width="10.7" height="10.3" fill="#4a9fd4"/>
<rect x="749" y="646.9" width="10.7" height="10.3" fill="#e8534b"/>
<rect x="824.3" y="646.9" width="10.7" height="10.3" fill="#6bad5b"/>
<text x="709.5" y="655.5" class="lg3" textLength="23.5" lengthAdjust="spacingAndGlyphs">DMEM</text>
<text x="764.9" y="655.5" class="lg3" textLength="39.9" lengthAdjust="spacingAndGlyphs">No glucose</text>
<text x="839.7" y="655.5" class="lg3" textLength="50.3" lengthAdjust="spacingAndGlyphs">No glutamine</text>
<text x="710.1" y="675.2" class="cit" textLength="158.3" lengthAdjust="spacingAndGlyphs">Fan J., <tspan font-style="italic">et al.</tspan>, (2013) Mol Syst Biol.</text>
<line x1="195" y1="943.8" x2="195" y2="1159" stroke="#3a3a3a" stroke-width="1.6"/>
<line x1="190" y1="1153.6" x2="195" y2="1153.6" stroke="#3a3a3a" stroke-width="1.3"/>
<text x="187.8" y="1156.9" text-anchor="end" class="tk4">0</text>
<line x1="190" y1="1134.6" x2="195" y2="1134.6" stroke="#3a3a3a" stroke-width="1.3"/>
<text x="187.8" y="1137.9" text-anchor="end" class="tk4">100</text>
<line x1="190" y1="1115.5" x2="195" y2="1115.5" stroke="#3a3a3a" stroke-width="1.3"/>
<text x="187.8" y="1118.8" text-anchor="end" class="tk4">200</text>
<line x1="190" y1="1096.5" x2="195" y2="1096.5" stroke="#3a3a3a" stroke-width="1.3"/>
<text x="187.8" y="1099.8" text-anchor="end" class="tk4">300</text>
<line x1="190" y1="1077.5" x2="195" y2="1077.5" stroke="#3a3a3a" stroke-width="1.3"/>
<text x="187.8" y="1080.8" text-anchor="end" class="tk4">400</text>
<line x1="190" y1="1058.4" x2="195" y2="1058.4" stroke="#3a3a3a" stroke-width="1.3"/>
<text x="187.8" y="1061.7" text-anchor="end" class="tk4">500</text>
<line x1="190" y1="1039.4" x2="195" y2="1039.4" stroke="#3a3a3a" stroke-width="1.3"/>
<text x="187.8" y="1042.7" text-anchor="end" class="tk4">600</text>
<line x1="190" y1="1020.3" x2="195" y2="1020.3" stroke="#3a3a3a" stroke-width="1.3"/>
<text x="187.8" y="1023.6" text-anchor="end" class="tk4">700</text>
<line x1="190" y1="1001.3" x2="195" y2="1001.3" stroke="#3a3a3a" stroke-width="1.3"/>
<text x="187.8" y="1004.6" text-anchor="end" class="tk4">800</text>
<line x1="190" y1="982.3" x2="195" y2="982.3" stroke="#3a3a3a" stroke-width="1.3"/>
<text x="187.8" y="985.6" text-anchor="end" class="tk4">900</text>
<line x1="190" y1="963.2" x2="195" y2="963.2" stroke="#3a3a3a" stroke-width="1.3"/>
<text x="187.8" y="966.5" text-anchor="end" class="tk4">1000</text>
<line x1="190" y1="944.2" x2="195" y2="944.2" stroke="#3a3a3a" stroke-width="1.3"/>
<text x="187.8" y="947.5" text-anchor="end" class="tk4">1100</text>
<rect x="208.1" y="1111.8" width="25.4" height="41.8" fill="#4a9fd4"/>
<path d="M220.8,1111.8 V1107.9 M216.6,1107.9 H225" stroke="#2b2b2b" stroke-width="1.4" fill="none"/>
<rect x="233.5" y="972.1" width="25.8" height="181.5" fill="#e8534b"/>
<path d="M246.4,972.1 V969.6 M242.2,969.6 H250.6" stroke="#2b2b2b" stroke-width="1.4" fill="none"/>
<rect x="259.3" y="1123.4" width="25.6" height="30.2" fill="#6bad5b"/>
<path d="M272.1,1123.4 V1120.4 M267.9,1120.4 H276.3" stroke="#2b2b2b" stroke-width="1.4" fill="none"/>
<rect x="284.9" y="1089.4" width="25.2" height="64.2" fill="#6a5a9f"/>
<path d="M297.5,1089.4 V1086.4 M293.3,1086.4 H301.7" stroke="#2b2b2b" stroke-width="1.4" fill="none"/>
<rect x="339.1" y="1115.4" width="25.4" height="38.2" fill="#3b8ec4"/>
<path d="M351.8,1115.4 V1109.6 M347.6,1109.6 H356" stroke="#2b2b2b" stroke-width="1.4" fill="none"/>
<rect x="364.5" y="1110" width="25.7" height="43.6" fill="#d6514a"/>
<path d="M377.4,1110 V1106.5 M373.2,1106.5 H381.6" stroke="#2b2b2b" stroke-width="1.4" fill="none"/>
<rect x="390.2" y="1130.2" width="25.3" height="23.4" fill="#64a155"/>
<path d="M402.9,1130.2 V1125.3 M398.7,1125.3 H407.1" stroke="#2b2b2b" stroke-width="1.4" fill="none"/>
<rect x="415.5" y="1096.1" width="25.7" height="57.5" fill="#5e4f93"/>
<path d="M428.4,1096.1 V1090.7 M424.2,1090.7 H432.6" stroke="#2b2b2b" stroke-width="1.4" fill="none"/>
<line x1="195" y1="1153.6" x2="451.5" y2="1153.6" stroke="#222" stroke-width="1.8"/>
<rect x="327.2" y="994.7" width="11.8" height="11.1" fill="#4a9fd4"/>
<rect x="384.9" y="994.7" width="11.8" height="11.1" fill="#e8534b"/>
<rect x="327.2" y="1012.4" width="11.8" height="11.1" fill="#6bad5b"/>
<rect x="384.9" y="1012.4" width="11.8" height="11.1" fill="#6a5a9f"/>
<text x="343.9" y="1004.2" class="lg4" textLength="30.2" lengthAdjust="spacingAndGlyphs">Control</text>
<text x="401.9" y="1004.2" class="lg4" textLength="38.1" lengthAdjust="spacingAndGlyphs">Palmitate</text>
<text x="343.9" y="1021.8" class="lg4" textLength="31.5" lengthAdjust="spacingAndGlyphs">Glucose</text>
<text x="401.9" y="1021.8" class="lg4" textLength="41.9" lengthAdjust="spacingAndGlyphs">Glutamine</text>
<text x="214" y="1168.9" class="cat4" textLength="92.8" lengthAdjust="spacingAndGlyphs">CELLS GENE-ENRICHED</text>
<text x="234.5" y="1178.3" class="cat4" textLength="53.3" lengthAdjust="spacingAndGlyphs">FOR OXPHOS</text>
<text x="356.6" y="1169" class="cat4" textLength="67.9" lengthAdjust="spacingAndGlyphs">NON-ACTIVATED</text>
<text x="374.6" y="1178.4" class="cat4" textLength="31.6" lengthAdjust="spacingAndGlyphs">B CELLS</text>
<text x="245.2" y="1194.7" class="cit" textLength="157.7" lengthAdjust="spacingAndGlyphs">Caro P., <tspan font-style="italic">et al.</tspan>, (2012) Cancer Cell.</text>
<text transform="translate(148,1050) rotate(-90)" text-anchor="middle" class="yl4" textLength="159.5" lengthAdjust="spacingAndGlyphs">Oxygen Consumption Rate (OCR)</text>
<text transform="translate(161.8,1050) rotate(-90)" text-anchor="middle" class="yl4" textLength="124" lengthAdjust="spacingAndGlyphs">Basal OCR (pmoles O/min)</text>
<line x1="654.7" y1="997" x2="654.7" y2="1140" stroke="#222" stroke-width="1.6"/>
<line x1="648.7" y1="1133.8" x2="654.7" y2="1133.8" stroke="#222" stroke-width="1.4"/>
<text x="646.3" y="1137.7" text-anchor="end" class="tk5">0</text>
<line x1="648.7" y1="1111.1" x2="654.7" y2="1111.1" stroke="#222" stroke-width="1.4"/>
<text x="646.3" y="1115" text-anchor="end" class="tk5">50</text>
<line x1="648.7" y1="1088.3" x2="654.7" y2="1088.3" stroke="#222" stroke-width="1.4"/>
<text x="646.3" y="1092.2" text-anchor="end" class="tk5">100</text>
<line x1="648.7" y1="1065.6" x2="654.7" y2="1065.6" stroke="#222" stroke-width="1.4"/>
<text x="646.3" y="1069.5" text-anchor="end" class="tk5">150</text>
<line x1="648.7" y1="1042.9" x2="654.7" y2="1042.9" stroke="#222" stroke-width="1.4"/>
<text x="646.3" y="1046.8" text-anchor="end" class="tk5">200</text>
<line x1="648.7" y1="1020.1" x2="654.7" y2="1020.1" stroke="#222" stroke-width="1.4"/>
<text x="646.3" y="1024" text-anchor="end" class="tk5">250</text>
<line x1="648.7" y1="997.4" x2="654.7" y2="997.4" stroke="#222" stroke-width="1.4"/>
<text x="646.3" y="1001.3" text-anchor="end" class="tk5">300</text>
<rect x="672.1" y="1088.1" width="45" height="45.7" fill="#6a5a9f"/>
<rect x="672.1" y="1117.7" width="45" height="16.1" fill="#6bad5b"/>
<rect x="733.1" y="1033.7" width="45.7" height="100.1" fill="#6a5a9f"/>
<rect x="733.1" y="1125.7" width="45.7" height="8.1" fill="#6bad5b"/>
<line x1="654.7" y1="1133.8" x2="854.4" y2="1133.8" stroke="#222" stroke-width="1.6"/>
<path d="M694.5,1088.1 V1082.5 M690.1,1082.5 H699.1 M755.8,1033.7 V1026.4 M751.2,1026.4 H760.2" stroke="#222" stroke-width="1.6" fill="none"/>
<text transform="translate(750.9,1017.3) rotate(90) scale(1.1)" x="0.5" y="11.5" text-anchor="middle" class="star">*</text>
<text transform="translate(765.2,1017.3) rotate(90) scale(1.1)" x="0.5" y="11.5" text-anchor="middle" class="star">*</text>
<text x="696.2" y="1149.8" text-anchor="middle" class="ax5">CTL</text>
<text x="757.5" y="1149.8" text-anchor="middle" class="ax5">RAS</text>
<rect x="657.2" y="1160" width="13.4" height="12.5" fill="#6a5a9f"/>
<rect x="759.7" y="1160" width="11.9" height="12.5" fill="#6bad5b"/>
<text x="674.4" y="1170" class="ax5" textLength="66.6" lengthAdjust="spacingAndGlyphs">FA-dependent</text>
<text x="777.8" y="1170" class="ax5" textLength="73.4" lengthAdjust="spacingAndGlyphs">FA-independent</text>
<text x="675.3" y="1195" class="cit" textLength="160" lengthAdjust="spacingAndGlyphs">Quijano C, <tspan font-style="italic">et al.</tspan>, (2012) Cell Cycle</text>
<text transform="translate(610.5,1070.9) rotate(-90)" text-anchor="middle" class="ax5" textLength="193.8" lengthAdjust="spacingAndGlyphs">Oxygen Consumption Rate (OCR) (%)</text>
</svg>
</body></html>
